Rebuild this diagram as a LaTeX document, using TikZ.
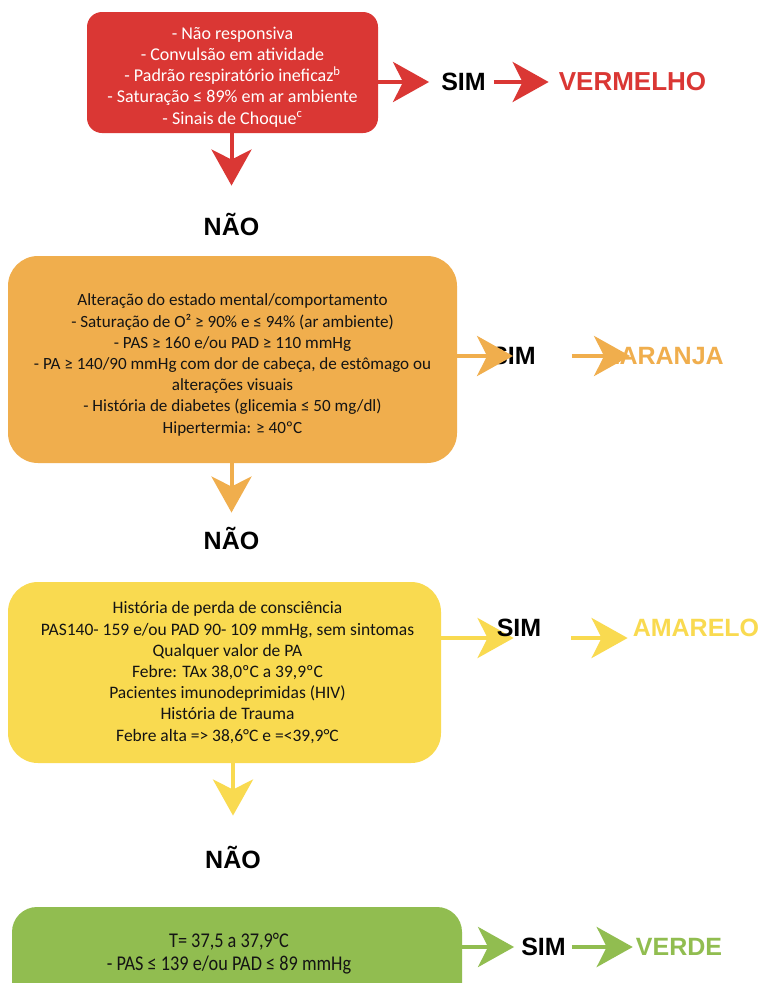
\documentclass[tikz,border=0pt]{standalone}
\usepackage{fontspec}
\setmainfont{Carlito}
\newfontfamily\answerfont{Liberation Sans}
\newfontfamily\narrowfont{Carlito}[FakeStretch=0.87]
\usetikzlibrary{arrows.meta,calc}

\definecolor{cred}{RGB}{218,55,52}
\definecolor{corange}{RGB}{240,174,77}
\definecolor{cyellow}{RGB}{249,218,80}
\definecolor{cgreen}{RGB}{145,189,80}
\definecolor{ink}{RGB}{20,20,20}

\pgfdeclarelayer{paper}
\pgfdeclarelayer{under}
\pgfsetlayers{paper,under,main}

\tikzset{
  critbox/.style={fill=#1, draw=none, inner sep=0pt},
  crittext/.style={inner sep=0pt, align=center,
    font=\fontsize{#1}{21.2}\selectfont},
  flow/.style={draw=#1, line width=4pt,
    -{Stealth[length=36pt,width=40pt,inset=10pt]}},
  answer/.style={inner sep=0pt, font=\answerfont\bfseries\fontsize{25}{30}\selectfont},
}

\begin{document}
\begin{tikzpicture}[x=1pt,y=-1pt]
\clip (0,0) rectangle (766,983);
\begin{pgfonlayer}{paper}
\fill[white] (0,0) rectangle (766,983);
\end{pgfonlayer}

% ---------- red level ----------
\node[critbox=cred, minimum width=291, minimum height=121,
      rounded corners=15] (rb) at (232.5,72.5) {};
\node[crittext=18, text=white] (rt) at (232.5,77) 
  {- Não responsiva\\
   - Convulsão em atividade\\
   - Padrão respiratório ineficaz\textsuperscript{b}\\
   - Saturação ≤ 89\% em ar ambiente\\
   - Sinais de Choque\textsuperscript{c}};
\node[answer, text=black] (s1) at (463.5,82) {SIM};
\node[answer, text=cred, font=\answerfont\bfseries\fontsize{26}{30}\selectfont]
  (c1) at (632.5,82) {VERMELHO};
\node[answer, text=black] (n1) at (231.5,224) {NÃO};
\draw[flow=cred] (rb.east |- s1) -- ($(s1.west)+(-12,0)$);
\draw[flow=cred] ($(s1.east)+(8,0)$) -- ($(c1.west)+(-10,0)$);
\draw[flow=cred] (n1 |- rb.south) -- ($(n1.north)+(0,-27)$);

% ---------- orange level ----------
\node[critbox=corange, minimum width=449, minimum height=207,
      rounded corners=30] (ob) at (232.5,359.5) {};
\node[crittext=17.1, text=ink] (ot) at (232.5,365)
  {Alteração do estado mental/comportamento\\
   - Saturação de O² ≥ 90\% e ≤ 94\% (ar ambiente)\\
   - PAS ≥ 160 e/ou PAD ≥ 110 mmHg\\
   - PA ≥ 140/90 mmHg com dor de cabeça, de estômago ou\\
   alterações visuais\\
   - História de diabetes (glicemia ≤ 50 mg/dl)\\
   Hipertermia: ≥ 40ºC};
\node[answer, text=black] (s2) at (513.5,356) {SIM};
\node[answer, text=corange] (c2) at (664,356) {LARANJA};
\node[answer, text=black] (n2) at (231.5,538) {NÃO};
\draw[flow=corange] (ob.east |- s2) -- ($(s2.west)+(22,0)$);
\draw[flow=corange] ($(s2.east)+(36,0)$) -- ($(c2.west)+(26,0)$);
\draw[flow=corange] (n2 |- ob.south) -- ($(n2.north)+(0,-14)$);

% ---------- yellow level ----------
\node[critbox=cyellow, minimum width=433, minimum height=181,
      rounded corners=30] (yb) at (224.5,672.5) {};
\node[crittext=17.5, text=ink] (yt) at (227.5,672.5)
  {História de perda de consciência\\
   PAS140- 159 e/ou PAD 90- 109 mmHg, sem sintomas\\
   Qualquer valor de PA\\
   Febre: TAx 38,0ºC a 39,9ºC\\
   Pacientes imunodeprimidas (HIV)\\
   História de Trauma\\
   Febre alta => 38,6°C e =<39,9°C};
\node[answer, text=black] (s3) at (519,628) {SIM};
\node[answer, text=cyellow] (c3) at (696,628) {AMARELO};
\node[answer, text=black] (n3) at (233,857) {NÃO};
\begin{pgfonlayer}{under}
\draw[flow=cyellow] ($(yb.east)+(0,-34.5)$) -- ($(s3.west)+(17,10)$);
\draw[flow=cyellow] ($(s3.east)+(30,10)$) -- ($(c3.west)+(-5,10)$);
\end{pgfonlayer}
\draw[flow=cyellow] (n3 |- yb.south) -- ($(n3.north)+(0,-30)$);

% ---------- green level ----------
\node[critbox=cgreen, minimum width=450, minimum height=103,
      rounded corners=25] (gb) at (237,958.5) {};
\node[align=center, inner sep=0pt, text=ink,
      font=\narrowfont\fontsize{21}{23}\selectfont] (gt) at (229,953.5)
  {T= 37,5 a 37,9°C\\
   - PAS ≤ 139 e/ou PAD ≤ 89 mmHg};
\node[answer, text=black] (s4) at (543.5,947) {SIM};
\node[answer, text=cgreen] (c4) at (679,947) {VERDE};
\draw[flow=cgreen] (gb.east |- s4) -- ($(s4.west)+(-7,0)$);
\draw[flow=cgreen] ($(s4.east)+(6,0)$) -- ($(c4.west)+(-3,0)$);
\end{tikzpicture}
\end{document}
